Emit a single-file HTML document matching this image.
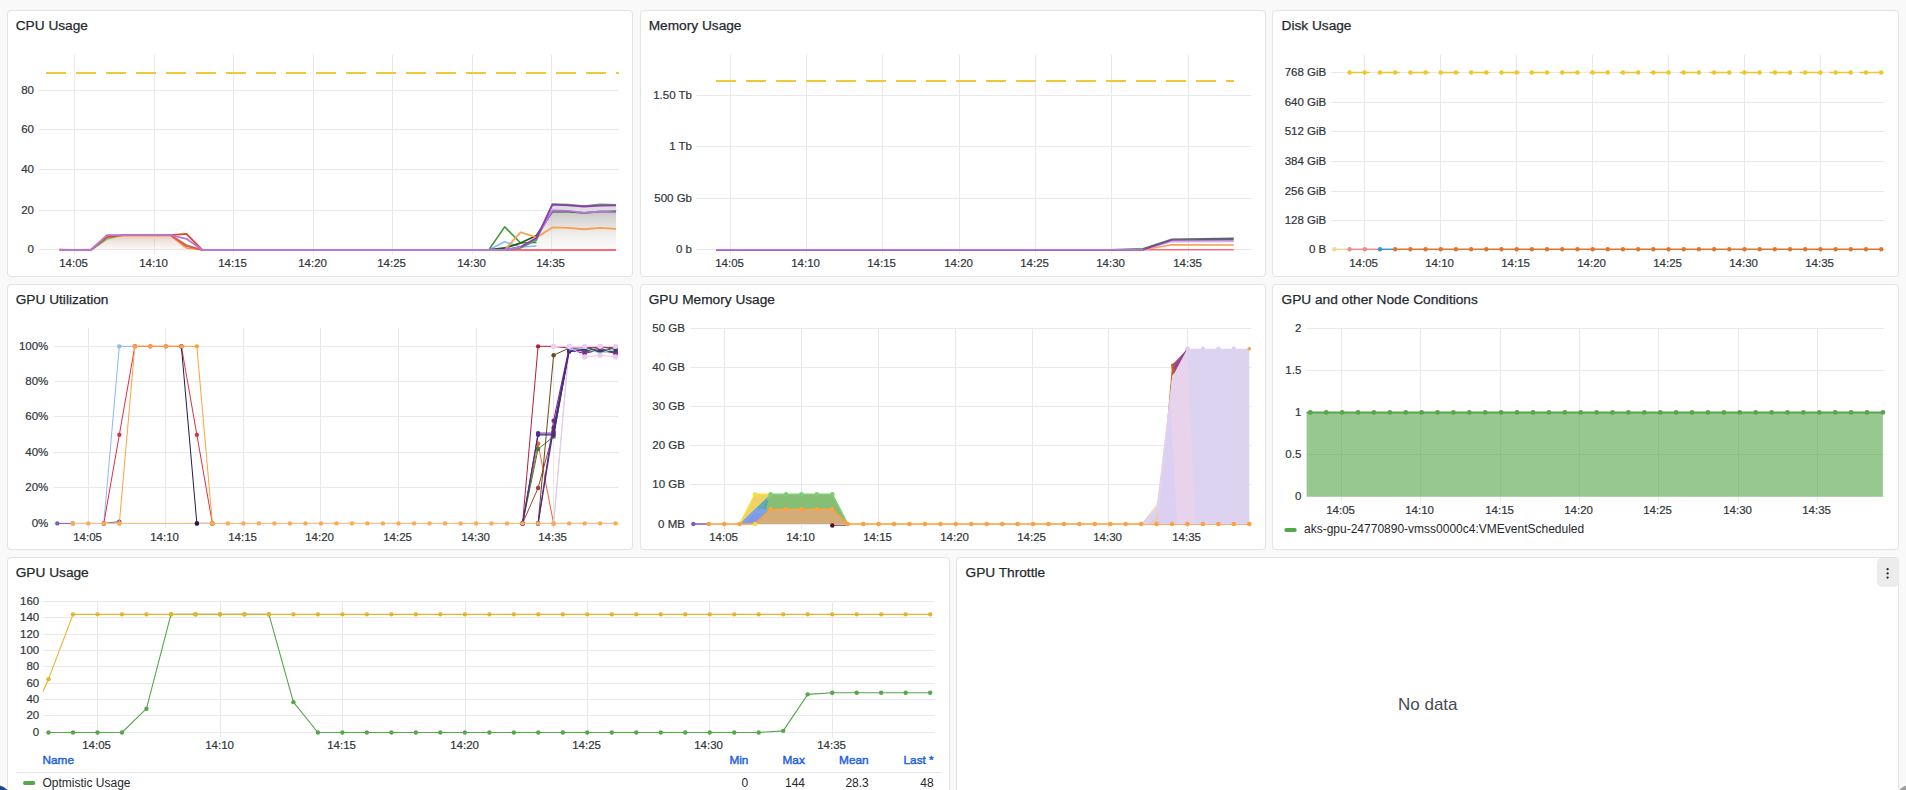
<!DOCTYPE html>
<html><head><meta charset="utf-8"><title>Dashboard</title>
<style>
html,body{margin:0;padding:0;}
body{width:1906px;height:790px;overflow:hidden;background:#f9f9f9;position:relative;font-family:"Liberation Sans", sans-serif;color:#24292e;}
.panel{position:absolute;box-sizing:border-box;background:#fff;border:1px solid #e3e3e3;border-radius:4px;}
.title{position:absolute;font-size:13.7px;line-height:16px;-webkit-text-stroke:0.25px #24292e;white-space:nowrap;color:#24292e;}
svg.ov{position:absolute;left:0;top:0;}
.ax{font-family:"Liberation Sans", sans-serif;fill:#30353a;stroke:#30353a;stroke-width:0.2px;}
.lg{font-family:"Liberation Sans", sans-serif;font-size:12px;fill:#24292e;}
.lh{font-family:"Liberation Sans", sans-serif;font-size:11.8px;fill:#1f62e0;stroke:#1f62e0;stroke-width:0.45px;}
.nodata{position:absolute;left:1398px;top:695px;font-size:17px;line-height:20px;color:#464c54;}
.menu{position:absolute;left:1876.5px;top:558px;width:22.5px;height:29px;background:#ececec;border-radius:5px;}
.menu i{position:absolute;left:10.5px;width:2.2px;height:2.2px;border-radius:50%;background:#24292e;}
.menu i:nth-child(1){top:10px} .menu i:nth-child(2){top:14.3px} .menu i:nth-child(3){top:18.6px}
</style></head><body>
<div class="panel" style="left:7px;top:10px;width:626px;height:267px"></div>
<div class="title" style="left:15.7px;top:18px">CPU Usage</div>
<div class="panel" style="left:640px;top:10px;width:626px;height:267px"></div>
<div class="title" style="left:648.7px;top:18px">Memory Usage</div>
<div class="panel" style="left:1272px;top:10px;width:627px;height:267px"></div>
<div class="title" style="left:1281.5px;top:18px">Disk Usage</div>
<div class="panel" style="left:7px;top:284px;width:626px;height:266px"></div>
<div class="title" style="left:15.7px;top:292px">GPU Utilization</div>
<div class="panel" style="left:640px;top:284px;width:626px;height:266px"></div>
<div class="title" style="left:648.7px;top:292px">GPU Memory Usage</div>
<div class="panel" style="left:1272px;top:284px;width:627px;height:266px"></div>
<div class="title" style="left:1281.5px;top:292px">GPU and other Node Conditions</div>
<div class="panel" style="left:7px;top:557px;width:943px;height:260px"></div>
<div class="title" style="left:15.7px;top:565px">GPU Usage</div>
<div class="panel" style="left:956px;top:557px;width:943px;height:260px"></div>
<div class="title" style="left:965.5px;top:565px">GPU Throttle</div>
<div class="nodata">No data</div>
<div class="menu"></div>
<svg class="ov" width="1906" height="790" viewBox="0 0 1906 790">
<defs>
<linearGradient id="gg" x1="0" y1="0" x2="0" y2="1"><stop offset="0" stop-color="#bcbcbc" stop-opacity="0.85"/><stop offset="0.5" stop-color="#d4d2cc" stop-opacity="0.5"/><stop offset="1" stop-color="#e8e4dc" stop-opacity="0.1"/></linearGradient>
<linearGradient id="gb" x1="0" y1="0" x2="0" y2="1"><stop offset="0" stop-color="#c89a8a" stop-opacity="0.5"/><stop offset="1" stop-color="#e0c0b0" stop-opacity="0.08"/></linearGradient>
</defs>
<path d="M39,249.5H618.5M39,210.5H618.5M39,169.5H618.5M39,129.5H618.5M39,90.5H618.5M74.5,54.5V254.5M154.5,54.5V254.5M233.5,54.5V254.5M313.5,54.5V254.5M392.5,54.5V254.5M472.5,54.5V254.5M551.5,54.5V254.5" stroke="#e8e9ea" stroke-width="1" fill="none"/>
<text x="34" y="252.5" text-anchor="end" class="ax" style="font-size:11.5px">0</text>
<text x="34" y="213.5" text-anchor="end" class="ax" style="font-size:11.5px">20</text>
<text x="34" y="172.5" text-anchor="end" class="ax" style="font-size:11.5px">40</text>
<text x="34" y="132.5" text-anchor="end" class="ax" style="font-size:11.5px">60</text>
<text x="34" y="93.5" text-anchor="end" class="ax" style="font-size:11.5px">80</text>
<text x="73.6" y="266.8" text-anchor="middle" class="ax" style="font-size:11.5px">14:05</text>
<text x="153.6" y="266.8" text-anchor="middle" class="ax" style="font-size:11.5px">14:10</text>
<text x="232.6" y="266.8" text-anchor="middle" class="ax" style="font-size:11.5px">14:15</text>
<text x="312.6" y="266.8" text-anchor="middle" class="ax" style="font-size:11.5px">14:20</text>
<text x="391.6" y="266.8" text-anchor="middle" class="ax" style="font-size:11.5px">14:25</text>
<text x="471.6" y="266.8" text-anchor="middle" class="ax" style="font-size:11.5px">14:30</text>
<text x="550.6" y="266.8" text-anchor="middle" class="ax" style="font-size:11.5px">14:35</text>
<path d="M46,73H619" stroke="#f0c93a" stroke-width="2" stroke-dasharray="20 10"/>
<path d="M504.68,250 L520.59,247.01 L536.5,238.03 L552.41,204.71 L568.32,205.31 L584.23,206.51 L600.14,205.71 L616.05,205.31 L616.05,212.29 L600.14,211.5 L584.23,212.89 L568.32,210.9 L552.41,210.5 L536.5,238.03 L520.59,247.01 L504.68,250 Z" fill="#dedee2"/>
<path d="M488.77,250 L504.68,250 L520.59,247.01 L536.5,238.03 L552.41,210.5 L568.32,210.9 L584.23,212.89 L600.14,211.5 L616.05,212.29 L616.05,250 L488.77,250" fill="url(#gg)" fill-opacity="1.0" stroke="none"/>
<path d="M91.02,250 L106.93,235.04 L170.57,235.04 L186.48,244.01 L202.39,250 L202.39,250 L91.02,250" fill="url(#gb)" fill-opacity="1.0" stroke="none"/>
<path d="M59.2,249.2 L75.11,250 L91.02,249.4 L106.93,235.64 L170.57,235.64 L186.48,248 L202.39,250" stroke="#ff9830" stroke-width="1.6" fill="none" stroke-linejoin="round" />
<path d="M91.02,250 L106.93,239.03 L122.84,235.04 L170.57,235.04 L186.48,245.01 L202.39,250" stroke="#73bf69" stroke-width="1.6" fill="none" stroke-linejoin="round" />
<path d="M170.57,235.04 L186.48,246.01 L202.39,250" stroke="#f2495c" stroke-width="1.6" fill="none" stroke-linejoin="round" />
<path d="M91.02,250 L106.93,237.03 L122.84,235.04 L170.57,235.04 L186.48,233.84 L202.39,250" stroke="#e0482b" stroke-width="1.8" fill="none" stroke-linejoin="round" />
<path d="M472.86,250 L488.77,250 L504.68,226.86 L520.59,243.02 L536.5,242.42" stroke="#3d9a32" stroke-width="1.6" fill="none" stroke-linejoin="round" />
<path d="M488.77,250 L504.68,241.82 L520.59,247.01 L536.5,246.01" stroke="#8ab8ff" stroke-width="1.6" fill="none" stroke-linejoin="round" />
<path d="M488.77,250 L504.68,248 L520.59,243.02 L536.5,235.44 L552.41,211.5 L568.32,211.7 L584.23,212.89 L600.14,211.7 L616.05,211.3" stroke="#1f5e1a" stroke-width="1.8" fill="none" stroke-linejoin="round" />
<path d="M488.77,250 L504.68,250 L520.59,232.24 L536.5,237.43 L552.41,227.46 L568.32,227.86 L584.23,229.25 L600.14,227.86 L616.05,228.85" stroke="#f8a050" stroke-width="1.8" fill="none" stroke-linejoin="round" />
<path d="M504.68,250 L616.05,250" stroke="#f76a7e" stroke-width="2" fill="none" stroke-linejoin="round" />
<path d="M504.68,250 L520.59,248 L536.5,240.03 L552.41,204.12 L568.32,204.51 L584.23,206.11 L600.14,204.31 L616.05,204.91" stroke="#56a64b" stroke-width="1.6" fill="none" stroke-linejoin="round" />
<path d="M504.68,250 L520.59,247.01 L536.5,238.03 L552.41,210.5 L568.32,210.9 L584.23,212.89 L600.14,211.5 L616.05,212.29" stroke="#b877d9" stroke-width="1.8" fill="none" stroke-linejoin="round" />
<path d="M504.68,250 L520.59,247.01 L536.5,238.03 L552.41,204.71 L568.32,205.31 L584.23,206.51 L600.14,205.71 L616.05,205.31" stroke="#8f3bb8" stroke-width="1.8" fill="none" stroke-linejoin="round" />
<path d="M59.2,250 L75.11,250 L91.02,250 L106.93,235.04 L170.57,235.04 L186.48,238.83 L202.39,250 L504.68,250 L520.59,247.01" stroke="#b877d9" stroke-width="1.8" fill="none" stroke-linejoin="round" />
<path d="M696.5,249.5H1251.4M696.5,198.5H1251.4M696.5,146.5H1251.4M696.5,95.5H1251.4M730.5,54.5V254.5M806.5,54.5V254.5M882.5,54.5V254.5M959.5,54.5V254.5M1035.5,54.5V254.5M1111.5,54.5V254.5M1188.5,54.5V254.5" stroke="#e8e9ea" stroke-width="1" fill="none"/>
<text x="692" y="252.5" text-anchor="end" class="ax" style="font-size:11.5px">0 b</text>
<text x="692" y="201.5" text-anchor="end" class="ax" style="font-size:11.5px">500 Gb</text>
<text x="692" y="149.5" text-anchor="end" class="ax" style="font-size:11.5px">1 Tb</text>
<text x="692" y="98.5" text-anchor="end" class="ax" style="font-size:11.5px">1.50 Tb</text>
<text x="729.6" y="266.8" text-anchor="middle" class="ax" style="font-size:11.5px">14:05</text>
<text x="805.6" y="266.8" text-anchor="middle" class="ax" style="font-size:11.5px">14:10</text>
<text x="881.6" y="266.8" text-anchor="middle" class="ax" style="font-size:11.5px">14:15</text>
<text x="958.6" y="266.8" text-anchor="middle" class="ax" style="font-size:11.5px">14:20</text>
<text x="1034.6" y="266.8" text-anchor="middle" class="ax" style="font-size:11.5px">14:25</text>
<text x="1110.6" y="266.8" text-anchor="middle" class="ax" style="font-size:11.5px">14:30</text>
<text x="1187.6" y="266.8" text-anchor="middle" class="ax" style="font-size:11.5px">14:35</text>
<path d="M716,81H1234" stroke="#f0c93a" stroke-width="2" stroke-dasharray="20 10"/>
<path d="M716,249.8 L1143,249.8 L1172,249.8 L1233.7,249.8" stroke="#f76a7e" stroke-width="1.6" fill="none" stroke-linejoin="round" />
<path d="M716,249.8 L1143,249.8 L1172,244.8 L1233.7,245" stroke="#f8a050" stroke-width="1.6" fill="none" stroke-linejoin="round" />
<path d="M1110,249.8 L1143,248.8 L1172,239.2 L1233.7,238.2" stroke="#37872d" stroke-width="1.6" fill="none" stroke-linejoin="round" />
<path d="M716,249.8 L1143,249.8 L1172,241.6 L1233.7,241.5" stroke="#cbb4e0" stroke-width="1.6" fill="none" stroke-linejoin="round" />
<path d="M716,249.8 L1143,249.8 L1172,240 L1233.7,239.7" stroke="#8f3bb8" stroke-width="1.7" fill="none" stroke-linejoin="round" />
<path d="M716,249.8 L1143,249.8" stroke="#b877d9" stroke-width="1.6" fill="none" stroke-linejoin="round" />
<path d="M1331.3,249.5H1884.2M1331.3,220.5H1884.2M1331.3,191.5H1884.2M1331.3,161.5H1884.2M1331.3,131.5H1884.2M1331.3,102.5H1884.2M1331.3,72.5H1884.2M1364.5,54.5V254.5M1440.5,54.5V254.5M1516.5,54.5V254.5M1592.5,54.5V254.5M1668.5,54.5V254.5M1744.5,54.5V254.5M1820.5,54.5V254.5" stroke="#e8e9ea" stroke-width="1" fill="none"/>
<text x="1326.2" y="252.5" text-anchor="end" class="ax" style="font-size:11.5px">0 B</text>
<text x="1326.2" y="223.5" text-anchor="end" class="ax" style="font-size:11.5px">128 GiB</text>
<text x="1326.2" y="194.5" text-anchor="end" class="ax" style="font-size:11.5px">256 GiB</text>
<text x="1326.2" y="164.5" text-anchor="end" class="ax" style="font-size:11.5px">384 GiB</text>
<text x="1326.2" y="134.5" text-anchor="end" class="ax" style="font-size:11.5px">512 GiB</text>
<text x="1326.2" y="105.5" text-anchor="end" class="ax" style="font-size:11.5px">640 GiB</text>
<text x="1326.2" y="75.5" text-anchor="end" class="ax" style="font-size:11.5px">768 GiB</text>
<text x="1363.6" y="266.8" text-anchor="middle" class="ax" style="font-size:11.5px">14:05</text>
<text x="1439.6" y="266.8" text-anchor="middle" class="ax" style="font-size:11.5px">14:10</text>
<text x="1515.6" y="266.8" text-anchor="middle" class="ax" style="font-size:11.5px">14:15</text>
<text x="1591.6" y="266.8" text-anchor="middle" class="ax" style="font-size:11.5px">14:20</text>
<text x="1667.6" y="266.8" text-anchor="middle" class="ax" style="font-size:11.5px">14:25</text>
<text x="1743.6" y="266.8" text-anchor="middle" class="ax" style="font-size:11.5px">14:30</text>
<text x="1819.6" y="266.8" text-anchor="middle" class="ax" style="font-size:11.5px">14:35</text>
<path d="M1349.61,72.48H1881.16" stroke="#efc52a" stroke-width="1.5" stroke-dasharray="20 10"/>
<circle cx="1349.61" cy="72.48" r="2.2" fill="#efc52a"/>
<circle cx="1364.8" cy="72.48" r="2.2" fill="#efc52a"/>
<circle cx="1379.99" cy="72.48" r="2.2" fill="#efc52a"/>
<circle cx="1395.17" cy="72.48" r="2.2" fill="#efc52a"/>
<circle cx="1410.36" cy="72.48" r="2.2" fill="#efc52a"/>
<circle cx="1425.55" cy="72.48" r="2.2" fill="#efc52a"/>
<circle cx="1440.73" cy="72.48" r="2.2" fill="#efc52a"/>
<circle cx="1455.92" cy="72.48" r="2.2" fill="#efc52a"/>
<circle cx="1471.11" cy="72.48" r="2.2" fill="#efc52a"/>
<circle cx="1486.3" cy="72.48" r="2.2" fill="#efc52a"/>
<circle cx="1501.48" cy="72.48" r="2.2" fill="#efc52a"/>
<circle cx="1516.67" cy="72.48" r="2.2" fill="#efc52a"/>
<circle cx="1531.86" cy="72.48" r="2.2" fill="#efc52a"/>
<circle cx="1547.04" cy="72.48" r="2.2" fill="#efc52a"/>
<circle cx="1562.23" cy="72.48" r="2.2" fill="#efc52a"/>
<circle cx="1577.42" cy="72.48" r="2.2" fill="#efc52a"/>
<circle cx="1592.61" cy="72.48" r="2.2" fill="#efc52a"/>
<circle cx="1607.79" cy="72.48" r="2.2" fill="#efc52a"/>
<circle cx="1622.98" cy="72.48" r="2.2" fill="#efc52a"/>
<circle cx="1638.17" cy="72.48" r="2.2" fill="#efc52a"/>
<circle cx="1653.35" cy="72.48" r="2.2" fill="#efc52a"/>
<circle cx="1668.54" cy="72.48" r="2.2" fill="#efc52a"/>
<circle cx="1683.73" cy="72.48" r="2.2" fill="#efc52a"/>
<circle cx="1698.91" cy="72.48" r="2.2" fill="#efc52a"/>
<circle cx="1714.1" cy="72.48" r="2.2" fill="#efc52a"/>
<circle cx="1729.29" cy="72.48" r="2.2" fill="#efc52a"/>
<circle cx="1744.47" cy="72.48" r="2.2" fill="#efc52a"/>
<circle cx="1759.66" cy="72.48" r="2.2" fill="#efc52a"/>
<circle cx="1774.85" cy="72.48" r="2.2" fill="#efc52a"/>
<circle cx="1790.04" cy="72.48" r="2.2" fill="#efc52a"/>
<circle cx="1805.22" cy="72.48" r="2.2" fill="#efc52a"/>
<circle cx="1820.41" cy="72.48" r="2.2" fill="#efc52a"/>
<circle cx="1835.6" cy="72.48" r="2.2" fill="#efc52a"/>
<circle cx="1850.78" cy="72.48" r="2.2" fill="#efc52a"/>
<circle cx="1865.97" cy="72.48" r="2.2" fill="#efc52a"/>
<circle cx="1881.16" cy="72.48" r="2.2" fill="#efc52a"/>
<path d="M1334.43,249.3 L1349.61,249.3" stroke="#f4d598" stroke-width="1.5" fill="none" stroke-linejoin="round" />
<circle cx="1334.43" cy="249.3" r="2.2" fill="#f4d598"/>
<path d="M1349.61,249.3 L1379.99,249.3" stroke="#f08b8b" stroke-width="1.5" fill="none" stroke-linejoin="round" />
<circle cx="1349.61" cy="249.3" r="2.2" fill="#f08b8b"/>
<circle cx="1364.8" cy="249.3" r="2.2" fill="#f08b8b"/>
<path d="M1379.99,249.3 L1395.17,249.3" stroke="#3c96c8" stroke-width="1.5" fill="none" stroke-linejoin="round" />
<circle cx="1379.99" cy="249.3" r="2.2" fill="#3c96c8"/>
<path d="M1395.17,249.3 L1881.16,249.3" stroke="#e0752d" stroke-width="1.5" fill="none" stroke-linejoin="round" />
<circle cx="1395.17" cy="249.3" r="2.2" fill="#e0752d"/>
<circle cx="1410.36" cy="249.3" r="2.2" fill="#e0752d"/>
<circle cx="1425.55" cy="249.3" r="2.2" fill="#e0752d"/>
<circle cx="1440.73" cy="249.3" r="2.2" fill="#e0752d"/>
<circle cx="1455.92" cy="249.3" r="2.2" fill="#e0752d"/>
<circle cx="1471.11" cy="249.3" r="2.2" fill="#e0752d"/>
<circle cx="1486.3" cy="249.3" r="2.2" fill="#e0752d"/>
<circle cx="1501.48" cy="249.3" r="2.2" fill="#e0752d"/>
<circle cx="1516.67" cy="249.3" r="2.2" fill="#e0752d"/>
<circle cx="1531.86" cy="249.3" r="2.2" fill="#e0752d"/>
<circle cx="1547.04" cy="249.3" r="2.2" fill="#e0752d"/>
<circle cx="1562.23" cy="249.3" r="2.2" fill="#e0752d"/>
<circle cx="1577.42" cy="249.3" r="2.2" fill="#e0752d"/>
<circle cx="1592.61" cy="249.3" r="2.2" fill="#e0752d"/>
<circle cx="1607.79" cy="249.3" r="2.2" fill="#e0752d"/>
<circle cx="1622.98" cy="249.3" r="2.2" fill="#e0752d"/>
<circle cx="1638.17" cy="249.3" r="2.2" fill="#e0752d"/>
<circle cx="1653.35" cy="249.3" r="2.2" fill="#e0752d"/>
<circle cx="1668.54" cy="249.3" r="2.2" fill="#e0752d"/>
<circle cx="1683.73" cy="249.3" r="2.2" fill="#e0752d"/>
<circle cx="1698.91" cy="249.3" r="2.2" fill="#e0752d"/>
<circle cx="1714.1" cy="249.3" r="2.2" fill="#e0752d"/>
<circle cx="1729.29" cy="249.3" r="2.2" fill="#e0752d"/>
<circle cx="1744.47" cy="249.3" r="2.2" fill="#e0752d"/>
<circle cx="1759.66" cy="249.3" r="2.2" fill="#e0752d"/>
<circle cx="1774.85" cy="249.3" r="2.2" fill="#e0752d"/>
<circle cx="1790.04" cy="249.3" r="2.2" fill="#e0752d"/>
<circle cx="1805.22" cy="249.3" r="2.2" fill="#e0752d"/>
<circle cx="1820.41" cy="249.3" r="2.2" fill="#e0752d"/>
<circle cx="1835.6" cy="249.3" r="2.2" fill="#e0752d"/>
<circle cx="1850.78" cy="249.3" r="2.2" fill="#e0752d"/>
<circle cx="1865.97" cy="249.3" r="2.2" fill="#e0752d"/>
<circle cx="1881.16" cy="249.3" r="2.2" fill="#e0752d"/>
<path d="M53.7,523.5H618.5M53.7,487.5H618.5M53.7,452.5H618.5M53.7,416.5H618.5M53.7,381.5H618.5M53.7,346.5H618.5M88.5,327.5V528.5M165.5,327.5V528.5M243.5,327.5V528.5M320.5,327.5V528.5M398.5,327.5V528.5M476.5,327.5V528.5M553.5,327.5V528.5" stroke="#e8e9ea" stroke-width="1" fill="none"/>
<text x="48.3" y="526.5" text-anchor="end" class="ax" style="font-size:11.5px">0%</text>
<text x="48.3" y="490.5" text-anchor="end" class="ax" style="font-size:11.5px">20%</text>
<text x="48.3" y="455.5" text-anchor="end" class="ax" style="font-size:11.5px">40%</text>
<text x="48.3" y="419.5" text-anchor="end" class="ax" style="font-size:11.5px">60%</text>
<text x="48.3" y="384.5" text-anchor="end" class="ax" style="font-size:11.5px">80%</text>
<text x="48.3" y="349.5" text-anchor="end" class="ax" style="font-size:11.5px">100%</text>
<text x="87.6" y="540.5" text-anchor="middle" class="ax" style="font-size:11.5px">14:05</text>
<text x="164.6" y="540.5" text-anchor="middle" class="ax" style="font-size:11.5px">14:10</text>
<text x="242.6" y="540.5" text-anchor="middle" class="ax" style="font-size:11.5px">14:15</text>
<text x="319.6" y="540.5" text-anchor="middle" class="ax" style="font-size:11.5px">14:20</text>
<text x="397.6" y="540.5" text-anchor="middle" class="ax" style="font-size:11.5px">14:25</text>
<text x="475.6" y="540.5" text-anchor="middle" class="ax" style="font-size:11.5px">14:30</text>
<text x="552.6" y="540.5" text-anchor="middle" class="ax" style="font-size:11.5px">14:35</text>
<path d="M57.28,523.4 L72.79,523.4" stroke="#7a5dc7" stroke-width="1" fill="none" stroke-linejoin="round" />
<circle cx="57.28" cy="523.4" r="2.2" fill="#7a5dc7"/>
<circle cx="72.79" cy="523.4" r="2.2" fill="#7a5dc7"/>
<path d="M103.81,523.4 L119.32,346.34 L134.83,346.34" stroke="#8ab8ff" stroke-width="1" fill="none" stroke-linejoin="round" />
<circle cx="103.81" cy="523.4" r="2.2" fill="#8ab8ff"/>
<circle cx="119.32" cy="346.34" r="2.2" fill="#8ab8ff"/>
<circle cx="134.83" cy="346.34" r="2.2" fill="#8ab8ff"/>
<path d="M103.81,523.4 L119.32,434.87 L134.83,346.34 L150.34,346.34 L165.85,346.34 L181.36,346.34 L196.87,434.87 L212.38,523.4" stroke="#e02f44" stroke-width="1" fill="none" stroke-linejoin="round" />
<circle cx="103.81" cy="523.4" r="2.2" fill="#e02f44"/>
<circle cx="119.32" cy="434.87" r="2.2" fill="#e02f44"/>
<circle cx="134.83" cy="346.34" r="2.2" fill="#e02f44"/>
<circle cx="150.34" cy="346.34" r="2.2" fill="#e02f44"/>
<circle cx="165.85" cy="346.34" r="2.2" fill="#e02f44"/>
<circle cx="181.36" cy="346.34" r="2.2" fill="#e02f44"/>
<circle cx="196.87" cy="434.87" r="2.2" fill="#e02f44"/>
<circle cx="212.38" cy="523.4" r="2.2" fill="#e02f44"/>
<path d="M181.36,346.34 L196.87,523.4 L212.38,523.4" stroke="#231a4a" stroke-width="1" fill="none" stroke-linejoin="round" />
<circle cx="181.36" cy="346.34" r="2.2" fill="#231a4a"/>
<circle cx="196.87" cy="523.4" r="2.2" fill="#231a4a"/>
<circle cx="212.38" cy="523.4" r="2.2" fill="#231a4a"/>
<path d="M103.81,523.4 L119.32,521.63" stroke="#6d4c8c" stroke-width="1" fill="none" stroke-linejoin="round" />
<circle cx="103.81" cy="523.4" r="2.2" fill="#6d4c8c"/>
<circle cx="119.32" cy="521.63" r="2.2" fill="#6d4c8c"/>
<path d="M119.32,523.4 L134.83,346.34 L150.34,346.34 L165.85,346.34 L181.36,346.34 L196.87,346.34 L212.38,523.4" stroke="#ffa040" stroke-width="1" fill="none" stroke-linejoin="round" />
<circle cx="119.32" cy="523.4" r="2.2" fill="#ffa040"/>
<circle cx="134.83" cy="346.34" r="2.2" fill="#ffa040"/>
<circle cx="150.34" cy="346.34" r="2.2" fill="#ffa040"/>
<circle cx="165.85" cy="346.34" r="2.2" fill="#ffa040"/>
<circle cx="181.36" cy="346.34" r="2.2" fill="#ffa040"/>
<circle cx="196.87" cy="346.34" r="2.2" fill="#ffa040"/>
<circle cx="212.38" cy="523.4" r="2.2" fill="#ffa040"/>
<path d="M522.58,523.4 L538.09,443.72 L553.6,523.4" stroke="#f0602a" stroke-width="1" fill="none" stroke-linejoin="round" />
<circle cx="522.58" cy="523.4" r="2.2" fill="#f0602a"/>
<circle cx="538.09" cy="443.72" r="2.2" fill="#f0602a"/>
<circle cx="553.6" cy="523.4" r="2.2" fill="#f0602a"/>
<path d="M522.58,523.4 L538.09,449.03 L553.6,436.64 L569.11,349.88" stroke="#37872d" stroke-width="1" fill="none" stroke-linejoin="round" />
<circle cx="522.58" cy="523.4" r="2.2" fill="#37872d"/>
<circle cx="538.09" cy="449.03" r="2.2" fill="#37872d"/>
<circle cx="553.6" cy="436.64" r="2.2" fill="#37872d"/>
<circle cx="569.11" cy="349.88" r="2.2" fill="#37872d"/>
<path d="M522.58,523.4 L538.09,487.99 L553.6,431.33 L569.11,348.11" stroke="#a04030" stroke-width="1" fill="none" stroke-linejoin="round" />
<circle cx="522.58" cy="523.4" r="2.2" fill="#a04030"/>
<circle cx="538.09" cy="487.99" r="2.2" fill="#a04030"/>
<circle cx="553.6" cy="431.33" r="2.2" fill="#a04030"/>
<circle cx="569.11" cy="348.11" r="2.2" fill="#a04030"/>
<path d="M553.6,523.4 L569.11,346.34" stroke="#f8c8a0" stroke-width="1" fill="none" stroke-linejoin="round" />
<path d="M553.6,523.4 L569.11,346.34" stroke="#d8d0f8" stroke-width="1" fill="none" stroke-linejoin="round" />
<path d="M522.58,523.4 L538.09,346.34 L553.6,346.34 L569.11,348.11 L584.62,348.11 L600.13,346.34 L615.64,348.11" stroke="#b0203a" stroke-width="1" fill="none" stroke-linejoin="round" />
<circle cx="522.58" cy="523.4" r="2.2" fill="#b0203a"/>
<circle cx="538.09" cy="346.34" r="2.2" fill="#b0203a"/>
<circle cx="553.6" cy="346.34" r="2.2" fill="#b0203a"/>
<circle cx="569.11" cy="348.11" r="2.2" fill="#b0203a"/>
<circle cx="584.62" cy="348.11" r="2.2" fill="#b0203a"/>
<circle cx="600.13" cy="346.34" r="2.2" fill="#b0203a"/>
<circle cx="615.64" cy="348.11" r="2.2" fill="#b0203a"/>
<path d="M538.09,523.4 L553.6,355.19 L569.11,348.11 L584.62,349.88 L600.13,346.34 L615.64,349.88" stroke="#6a4a1a" stroke-width="1" fill="none" stroke-linejoin="round" />
<circle cx="538.09" cy="523.4" r="2.2" fill="#6a4a1a"/>
<circle cx="553.6" cy="355.19" r="2.2" fill="#6a4a1a"/>
<circle cx="569.11" cy="348.11" r="2.2" fill="#6a4a1a"/>
<circle cx="584.62" cy="349.88" r="2.2" fill="#6a4a1a"/>
<circle cx="600.13" cy="346.34" r="2.2" fill="#6a4a1a"/>
<circle cx="615.64" cy="349.88" r="2.2" fill="#6a4a1a"/>
<path d="M522.58,523.4 L538.09,434.87 L553.6,434.87 L569.11,351.65 L584.62,349.88 L600.13,351.65 L615.64,351.65" stroke="#3a2a7a" stroke-width="1.1" fill="none" stroke-linejoin="round" />
<circle cx="522.58" cy="523.4" r="2.2" fill="#3a2a7a"/>
<circle cx="538.09" cy="434.87" r="2.2" fill="#3a2a7a"/>
<circle cx="553.6" cy="434.87" r="2.2" fill="#3a2a7a"/>
<circle cx="569.11" cy="351.65" r="2.2" fill="#3a2a7a"/>
<circle cx="584.62" cy="349.88" r="2.2" fill="#3a2a7a"/>
<circle cx="600.13" cy="351.65" r="2.2" fill="#3a2a7a"/>
<circle cx="615.64" cy="351.65" r="2.2" fill="#3a2a7a"/>
<path d="M522.58,523.4 L538.09,433.1 L553.6,433.1 L569.11,349.88 L584.62,353.42 L600.13,349.88 L615.64,353.42" stroke="#5a2a8a" stroke-width="1.0" fill="none" stroke-linejoin="round" />
<circle cx="522.58" cy="523.4" r="2.2" fill="#5a2a8a"/>
<circle cx="538.09" cy="433.1" r="2.2" fill="#5a2a8a"/>
<circle cx="553.6" cy="433.1" r="2.2" fill="#5a2a8a"/>
<circle cx="569.11" cy="349.88" r="2.2" fill="#5a2a8a"/>
<circle cx="584.62" cy="353.42" r="2.2" fill="#5a2a8a"/>
<circle cx="600.13" cy="349.88" r="2.2" fill="#5a2a8a"/>
<circle cx="615.64" cy="353.42" r="2.2" fill="#5a2a8a"/>
<path d="M538.09,523.4 L553.6,420.71 L569.11,348.11 L584.62,351.65 L600.13,348.11 L615.64,353.42" stroke="#7a2f8f" stroke-width="1.1" fill="none" stroke-linejoin="round" />
<circle cx="538.09" cy="523.4" r="2.2" fill="#7a2f8f"/>
<circle cx="553.6" cy="420.71" r="2.2" fill="#7a2f8f"/>
<circle cx="569.11" cy="348.11" r="2.2" fill="#7a2f8f"/>
<circle cx="584.62" cy="351.65" r="2.2" fill="#7a2f8f"/>
<circle cx="600.13" cy="348.11" r="2.2" fill="#7a2f8f"/>
<circle cx="615.64" cy="353.42" r="2.2" fill="#7a2f8f"/>
<path d="M538.09,523.4 L553.6,427.79 L569.11,349.88 L584.62,348.11 L600.13,351.65 L615.64,348.11" stroke="#4b2e83" stroke-width="1.2" fill="none" stroke-linejoin="round" />
<circle cx="538.09" cy="523.4" r="2.2" fill="#4b2e83"/>
<circle cx="553.6" cy="427.79" r="2.2" fill="#4b2e83"/>
<circle cx="569.11" cy="349.88" r="2.2" fill="#4b2e83"/>
<circle cx="584.62" cy="348.11" r="2.2" fill="#4b2e83"/>
<circle cx="600.13" cy="351.65" r="2.2" fill="#4b2e83"/>
<circle cx="615.64" cy="348.11" r="2.2" fill="#4b2e83"/>
<path d="M584.62,351.65 L600.13,349.88 L615.64,351.65" stroke="#2f6a30" stroke-width="1" fill="none" stroke-linejoin="round" />
<path d="M569.11,346.34 L584.62,356.96 L600.13,355.19 L615.64,356.96" stroke="#f4c6f4" stroke-width="1" fill="none" stroke-linejoin="round" />
<circle cx="569.11" cy="346.34" r="2.6" fill="#f4c6f4"/>
<circle cx="584.62" cy="356.96" r="2.6" fill="#f4c6f4"/>
<circle cx="600.13" cy="355.19" r="2.6" fill="#f4c6f4"/>
<circle cx="615.64" cy="356.96" r="2.6" fill="#f4c6f4"/>
<path d="M553.6,346.34 L569.11,346.34 L584.62,346.34 L600.13,346.34 L615.64,346.34" stroke="#ecd0f4" stroke-width="1" fill="none" stroke-linejoin="round" />
<circle cx="553.6" cy="346.34" r="2.6" fill="#ecd0f4"/>
<circle cx="569.11" cy="346.34" r="2.6" fill="#ecd0f4"/>
<circle cx="584.62" cy="346.34" r="2.6" fill="#ecd0f4"/>
<circle cx="600.13" cy="346.34" r="2.6" fill="#ecd0f4"/>
<circle cx="615.64" cy="346.34" r="2.6" fill="#ecd0f4"/>
<path d="M569.11,349.88 L584.62,348.11 L600.13,353.42 L615.64,348.11" stroke="#a0e0f0" stroke-width="1" fill="none" stroke-linejoin="round" />
<path d="M72.79,523.4 L615.64,523.4" stroke="#e9c595" stroke-width="1.3" fill="none" stroke-linejoin="round" />
<circle cx="72.79" cy="523.4" r="2.2" fill="#ffa94d"/>
<circle cx="88.3" cy="523.4" r="2.2" fill="#ffa94d"/>
<circle cx="103.81" cy="523.4" r="2.2" fill="#ffa94d"/>
<circle cx="119.32" cy="523.4" r="2.2" fill="#ffa94d"/>
<circle cx="212.38" cy="523.4" r="2.2" fill="#ffa94d"/>
<circle cx="227.89" cy="523.4" r="2.2" fill="#ffa94d"/>
<circle cx="243.4" cy="523.4" r="2.2" fill="#ffa94d"/>
<circle cx="258.91" cy="523.4" r="2.2" fill="#ffa94d"/>
<circle cx="274.42" cy="523.4" r="2.2" fill="#ffa94d"/>
<circle cx="289.93" cy="523.4" r="2.2" fill="#ffa94d"/>
<circle cx="305.44" cy="523.4" r="2.2" fill="#ffa94d"/>
<circle cx="320.95" cy="523.4" r="2.2" fill="#ffa94d"/>
<circle cx="336.46" cy="523.4" r="2.2" fill="#ffa94d"/>
<circle cx="351.97" cy="523.4" r="2.2" fill="#ffa94d"/>
<circle cx="367.48" cy="523.4" r="2.2" fill="#ffa94d"/>
<circle cx="382.99" cy="523.4" r="2.2" fill="#ffa94d"/>
<circle cx="398.5" cy="523.4" r="2.2" fill="#ffa94d"/>
<circle cx="414.01" cy="523.4" r="2.2" fill="#ffa94d"/>
<circle cx="429.52" cy="523.4" r="2.2" fill="#ffa94d"/>
<circle cx="445.03" cy="523.4" r="2.2" fill="#ffa94d"/>
<circle cx="460.54" cy="523.4" r="2.2" fill="#ffa94d"/>
<circle cx="476.05" cy="523.4" r="2.2" fill="#ffa94d"/>
<circle cx="491.56" cy="523.4" r="2.2" fill="#ffa94d"/>
<circle cx="507.07" cy="523.4" r="2.2" fill="#ffa94d"/>
<circle cx="522.58" cy="523.4" r="2.2" fill="#ffa94d"/>
<circle cx="538.09" cy="523.4" r="2.2" fill="#ffa94d"/>
<circle cx="553.6" cy="523.4" r="2.2" fill="#ffa94d"/>
<circle cx="569.11" cy="523.4" r="2.2" fill="#ffa94d"/>
<circle cx="584.62" cy="523.4" r="2.2" fill="#ffa94d"/>
<circle cx="600.13" cy="523.4" r="2.2" fill="#ffa94d"/>
<circle cx="615.64" cy="523.4" r="2.2" fill="#ffa94d"/>
<circle cx="196.87" cy="523.4" r="2.2" fill="#231a4a"/>
<path d="M690.3,524.5H1251.4M690.3,484.5H1251.4M690.3,445.5H1251.4M690.3,406.5H1251.4M690.3,367.5H1251.4M690.3,328.5H1251.4M724.5,327.5V529M801.5,327.5V529M878.5,327.5V529M955.5,327.5V529M1032.5,327.5V529M1108.5,327.5V529M1187.5,327.5V529" stroke="#e8e9ea" stroke-width="1" fill="none"/>
<text x="684.9" y="527.5" text-anchor="end" class="ax" style="font-size:11.5px">0 MB</text>
<text x="684.9" y="487.5" text-anchor="end" class="ax" style="font-size:11.5px">10 GB</text>
<text x="684.9" y="448.5" text-anchor="end" class="ax" style="font-size:11.5px">20 GB</text>
<text x="684.9" y="409.5" text-anchor="end" class="ax" style="font-size:11.5px">30 GB</text>
<text x="684.9" y="370.5" text-anchor="end" class="ax" style="font-size:11.5px">40 GB</text>
<text x="684.9" y="331.5" text-anchor="end" class="ax" style="font-size:11.5px">50 GB</text>
<text x="723.6" y="540.5" text-anchor="middle" class="ax" style="font-size:11.5px">14:05</text>
<text x="800.6" y="540.5" text-anchor="middle" class="ax" style="font-size:11.5px">14:10</text>
<text x="877.6" y="540.5" text-anchor="middle" class="ax" style="font-size:11.5px">14:15</text>
<text x="954.6" y="540.5" text-anchor="middle" class="ax" style="font-size:11.5px">14:20</text>
<text x="1031.6" y="540.5" text-anchor="middle" class="ax" style="font-size:11.5px">14:25</text>
<text x="1107.6" y="540.5" text-anchor="middle" class="ax" style="font-size:11.5px">14:30</text>
<text x="1186.6" y="540.5" text-anchor="middle" class="ax" style="font-size:11.5px">14:35</text>
<path d="M739.64,524 L755.09,494.2 L770.53,494.2 L755.09,524 Z" fill="#efd365" fill-opacity="1"/>
<path d="M755.09,524 L770.53,494.2 L832.3,494.2 L847.74,524 Z" fill="#84bf73" fill-opacity="1"/>
<path d="M739.64,524 L770.53,494.2 L765.53,509.3 Z" fill="#4f9fc7" fill-opacity="0.85"/>
<path d="M739.64,524 L755.09,509.3 L768.03,509.3 L755.09,524 Z" fill="#7ba3f0" fill-opacity="1"/>
<path d="M745.64,522 L755.09,513.3 L761.09,513.3 L756.09,522 Z" fill="#8a8ee0" fill-opacity="0.6"/>
<path d="M755.09,524 L770.53,509.3 L832.3,509.3 L847.74,524 Z" fill="#d4ac78" fill-opacity="1"/>
<path d="M739.64,524 L755.09,494.2 L770.53,494.2" stroke="#f7e03a" stroke-width="1.5" fill="none" stroke-linejoin="round" />
<path d="M767.53,500.2 L770.53,494.2 L832.3,494.2 L847.74,524" stroke="#7fcf78" stroke-width="1.5" fill="none" stroke-linejoin="round" />
<circle cx="770.53" cy="494.2" r="2.3" fill="#80cc78"/>
<circle cx="785.97" cy="494.2" r="2.3" fill="#80cc78"/>
<circle cx="801.42" cy="494.2" r="2.3" fill="#80cc78"/>
<circle cx="816.86" cy="494.2" r="2.3" fill="#80cc78"/>
<circle cx="832.3" cy="494.2" r="2.3" fill="#80cc78"/>
<path d="M832.3,525.3 L847.74,525.3" stroke="#8a5a50" stroke-width="1.2" fill="none" stroke-linejoin="round" />
<circle cx="832.3" cy="525.5" r="2.2" fill="#4a1020"/>
<path d="M708.76,524 L755.09,524 L770.53,509.3 L832.3,509.3 L847.74,524 L1249.26,524" stroke="#ff9f40" stroke-width="1.5" fill="none" stroke-linejoin="round" />
<circle cx="770.53" cy="509.3" r="2.3" fill="#ffa040"/>
<circle cx="785.97" cy="509.3" r="2.3" fill="#ffa040"/>
<circle cx="801.42" cy="509.3" r="2.3" fill="#ffa040"/>
<circle cx="816.86" cy="509.3" r="2.3" fill="#ffa040"/>
<circle cx="832.3" cy="509.3" r="2.3" fill="#ffa040"/>
<circle cx="755.09" cy="494.2" r="2.3" fill="#f7e03a"/>
<path d="M693.31,524 L708.76,524" stroke="#7a5dc7" stroke-width="1.5" fill="none" stroke-linejoin="round" />
<circle cx="693.31" cy="524" r="2.2" fill="#7a5dc7"/>
<path d="M1160.6,506 L1172.05,372 L1187.49,348.8" stroke="#c0642a" stroke-width="1.2" fill="none" stroke-linejoin="round" />
<path d="M1141.16,524 L1156.6,504 L1162.6,470 L1159.6,505 L1164.6,524 Z" fill="#f2d890" fill-opacity="0.7"/>
<path d="M1172.05,365 L1186.49,349.8 L1187.49,350.8 L1174.05,375 Z" fill="#8f3a8f" fill-opacity="0.9"/>
<path d="M1171.05,364 L1174.05,363 L1175.05,372 L1172.05,376 Z" fill="#c05a20" fill-opacity="0.9"/>
<path d="M1141.16,524 L1156.6,507 L1172.05,378 L1187.49,348.8 L1249.26,348.8 L1249.26,524 Z" fill="#dcd3f0" fill-opacity="1"/>
<path d="M1156.6,524 L1158.6,500 L1172.05,378 L1187.49,348.8 L1195.49,524 Z" fill="#ead3ea" fill-opacity="0.8"/>
<path d="M1156.6,524 L1160.6,495 L1170.05,400 L1177.05,524 Z" fill="#d9cff3" fill-opacity="0.9"/>
<path d="M1147.16,524 L1153.6,520 L1157.6,510 L1159.6,524 Z" fill="#e6c9b0" fill-opacity="0.6"/>
<circle cx="1187.49" cy="348.8" r="2.2" fill="#ddd0f5"/>
<circle cx="1202.93" cy="348.8" r="2.2" fill="#ddd0f5"/>
<circle cx="1218.38" cy="348.8" r="2.2" fill="#ddd0f5"/>
<circle cx="1233.82" cy="348.8" r="2.2" fill="#ddd0f5"/>
<circle cx="1187.49" cy="348.8" r="2.2" fill="#f0c4f0"/>
<circle cx="708.76" cy="524" r="2.3" fill="#ffa040"/>
<circle cx="724.2" cy="524" r="2.3" fill="#ffa040"/>
<circle cx="739.64" cy="524" r="2.3" fill="#ffa040"/>
<circle cx="847.74" cy="524" r="2.3" fill="#ffa040"/>
<circle cx="863.19" cy="524" r="2.3" fill="#ffa040"/>
<circle cx="878.63" cy="524" r="2.3" fill="#ffa040"/>
<circle cx="894.07" cy="524" r="2.3" fill="#ffa040"/>
<circle cx="909.52" cy="524" r="2.3" fill="#ffa040"/>
<circle cx="924.96" cy="524" r="2.3" fill="#ffa040"/>
<circle cx="940.4" cy="524" r="2.3" fill="#ffa040"/>
<circle cx="955.85" cy="524" r="2.3" fill="#ffa040"/>
<circle cx="971.29" cy="524" r="2.3" fill="#ffa040"/>
<circle cx="986.73" cy="524" r="2.3" fill="#ffa040"/>
<circle cx="1002.17" cy="524" r="2.3" fill="#ffa040"/>
<circle cx="1017.62" cy="524" r="2.3" fill="#ffa040"/>
<circle cx="1033.06" cy="524" r="2.3" fill="#ffa040"/>
<circle cx="1048.5" cy="524" r="2.3" fill="#ffa040"/>
<circle cx="1063.95" cy="524" r="2.3" fill="#ffa040"/>
<circle cx="1079.39" cy="524" r="2.3" fill="#ffa040"/>
<circle cx="1094.83" cy="524" r="2.3" fill="#ffa040"/>
<circle cx="1110.28" cy="524" r="2.3" fill="#ffa040"/>
<circle cx="1125.72" cy="524" r="2.3" fill="#ffa040"/>
<circle cx="1141.16" cy="524" r="2.3" fill="#ffa040"/>
<circle cx="1156.6" cy="524" r="2.3" fill="#ffa040"/>
<circle cx="1172.05" cy="524" r="2.3" fill="#ffa040"/>
<circle cx="1187.49" cy="524" r="2.3" fill="#ffa040"/>
<circle cx="1202.93" cy="524" r="2.3" fill="#ffa040"/>
<circle cx="1218.38" cy="524" r="2.3" fill="#ffa040"/>
<circle cx="1233.82" cy="524" r="2.3" fill="#ffa040"/>
<circle cx="1249.26" cy="524" r="2.3" fill="#ffa040"/>
<circle cx="755.09" cy="524" r="2.2" fill="#fade2a"/>
<circle cx="1249.26" cy="348.8" r="1.8" fill="#ffa040"/>
<path d="M1306.6,496.5H1884.2M1306.6,454.5H1884.2M1306.6,412.5H1884.2M1306.6,370.5H1884.2M1306.6,328.5H1884.2M1341.5,327.5V501.5M1420.5,327.5V501.5M1500.5,327.5V501.5M1579.5,327.5V501.5M1658.5,327.5V501.5M1738.5,327.5V501.5M1817.5,327.5V501.5" stroke="#e8e9ea" stroke-width="1" fill="none"/>
<text x="1301.3" y="499.5" text-anchor="end" class="ax" style="font-size:11.5px">0</text>
<text x="1301.3" y="457.5" text-anchor="end" class="ax" style="font-size:11.5px">0.5</text>
<text x="1301.3" y="415.5" text-anchor="end" class="ax" style="font-size:11.5px">1</text>
<text x="1301.3" y="373.5" text-anchor="end" class="ax" style="font-size:11.5px">1.5</text>
<text x="1301.3" y="331.5" text-anchor="end" class="ax" style="font-size:11.5px">2</text>
<text x="1340.6" y="514" text-anchor="middle" class="ax" style="font-size:11.5px">14:05</text>
<text x="1419.6" y="514" text-anchor="middle" class="ax" style="font-size:11.5px">14:10</text>
<text x="1499.6" y="514" text-anchor="middle" class="ax" style="font-size:11.5px">14:15</text>
<text x="1578.6" y="514" text-anchor="middle" class="ax" style="font-size:11.5px">14:20</text>
<text x="1657.6" y="514" text-anchor="middle" class="ax" style="font-size:11.5px">14:25</text>
<text x="1737.6" y="514" text-anchor="middle" class="ax" style="font-size:11.5px">14:30</text>
<text x="1816.6" y="514" text-anchor="middle" class="ax" style="font-size:11.5px">14:35</text>
<rect x="1306.6" y="412.4" width="576.3" height="84.2" fill="#56a64b" fill-opacity="0.62"/>
<path d="M1306.6,412.4 L1882.9,412.4" stroke="#56a64b" stroke-width="2" fill="none" stroke-linejoin="round" />
<circle cx="1310.3" cy="412.4" r="2.4" fill="#56a64b"/>
<circle cx="1326.21" cy="412.4" r="2.4" fill="#56a64b"/>
<circle cx="1342.11" cy="412.4" r="2.4" fill="#56a64b"/>
<circle cx="1358.02" cy="412.4" r="2.4" fill="#56a64b"/>
<circle cx="1373.92" cy="412.4" r="2.4" fill="#56a64b"/>
<circle cx="1389.83" cy="412.4" r="2.4" fill="#56a64b"/>
<circle cx="1405.74" cy="412.4" r="2.4" fill="#56a64b"/>
<circle cx="1421.64" cy="412.4" r="2.4" fill="#56a64b"/>
<circle cx="1437.55" cy="412.4" r="2.4" fill="#56a64b"/>
<circle cx="1453.45" cy="412.4" r="2.4" fill="#56a64b"/>
<circle cx="1469.36" cy="412.4" r="2.4" fill="#56a64b"/>
<circle cx="1485.27" cy="412.4" r="2.4" fill="#56a64b"/>
<circle cx="1501.17" cy="412.4" r="2.4" fill="#56a64b"/>
<circle cx="1517.08" cy="412.4" r="2.4" fill="#56a64b"/>
<circle cx="1532.98" cy="412.4" r="2.4" fill="#56a64b"/>
<circle cx="1548.89" cy="412.4" r="2.4" fill="#56a64b"/>
<circle cx="1564.8" cy="412.4" r="2.4" fill="#56a64b"/>
<circle cx="1580.7" cy="412.4" r="2.4" fill="#56a64b"/>
<circle cx="1596.61" cy="412.4" r="2.4" fill="#56a64b"/>
<circle cx="1612.51" cy="412.4" r="2.4" fill="#56a64b"/>
<circle cx="1628.42" cy="412.4" r="2.4" fill="#56a64b"/>
<circle cx="1644.33" cy="412.4" r="2.4" fill="#56a64b"/>
<circle cx="1660.23" cy="412.4" r="2.4" fill="#56a64b"/>
<circle cx="1676.14" cy="412.4" r="2.4" fill="#56a64b"/>
<circle cx="1692.04" cy="412.4" r="2.4" fill="#56a64b"/>
<circle cx="1707.95" cy="412.4" r="2.4" fill="#56a64b"/>
<circle cx="1723.86" cy="412.4" r="2.4" fill="#56a64b"/>
<circle cx="1739.76" cy="412.4" r="2.4" fill="#56a64b"/>
<circle cx="1755.67" cy="412.4" r="2.4" fill="#56a64b"/>
<circle cx="1771.57" cy="412.4" r="2.4" fill="#56a64b"/>
<circle cx="1787.48" cy="412.4" r="2.4" fill="#56a64b"/>
<circle cx="1803.39" cy="412.4" r="2.4" fill="#56a64b"/>
<circle cx="1819.29" cy="412.4" r="2.4" fill="#56a64b"/>
<circle cx="1835.2" cy="412.4" r="2.4" fill="#56a64b"/>
<circle cx="1851.1" cy="412.4" r="2.4" fill="#56a64b"/>
<circle cx="1867.01" cy="412.4" r="2.4" fill="#56a64b"/>
<circle cx="1882.92" cy="412.4" r="2.4" fill="#56a64b"/>
<rect x="1284.4" y="528.1" width="12.3" height="3.8" rx="1.9" fill="#56a64b"/>
<text x="1304" y="533.3" class="lg">aks-gpu-24770890-vmss0000c4:VMEventScheduled</text>
<path d="M43.1,732.5H934.5M43.1,715.5H934.5M43.1,699.5H934.5M43.1,683.5H934.5M43.1,666.5H934.5M43.1,650.5H934.5M43.1,634.5H934.5M43.1,617.5H934.5M43.1,601.5H934.5M97.5,601V737.5M220.5,601V737.5M342.5,601V737.5M465.5,601V737.5M587.5,601V737.5M709.5,601V737.5M832.5,601V737.5" stroke="#e8e9ea" stroke-width="1" fill="none"/>
<text x="39.2" y="735.5" text-anchor="end" class="ax" style="font-size:11.5px">0</text>
<text x="39.2" y="718.5" text-anchor="end" class="ax" style="font-size:11.5px">20</text>
<text x="39.2" y="702.5" text-anchor="end" class="ax" style="font-size:11.5px">40</text>
<text x="39.2" y="686.5" text-anchor="end" class="ax" style="font-size:11.5px">60</text>
<text x="39.2" y="669.5" text-anchor="end" class="ax" style="font-size:11.5px">80</text>
<text x="39.2" y="653.5" text-anchor="end" class="ax" style="font-size:11.5px">100</text>
<text x="39.2" y="637.5" text-anchor="end" class="ax" style="font-size:11.5px">120</text>
<text x="39.2" y="620.5" text-anchor="end" class="ax" style="font-size:11.5px">140</text>
<text x="39.2" y="604.5" text-anchor="end" class="ax" style="font-size:11.5px">160</text>
<text x="96.6" y="748.8" text-anchor="middle" class="ax" style="font-size:11.5px">14:05</text>
<text x="219.6" y="748.8" text-anchor="middle" class="ax" style="font-size:11.5px">14:10</text>
<text x="341.6" y="748.8" text-anchor="middle" class="ax" style="font-size:11.5px">14:15</text>
<text x="464.6" y="748.8" text-anchor="middle" class="ax" style="font-size:11.5px">14:20</text>
<text x="586.6" y="748.8" text-anchor="middle" class="ax" style="font-size:11.5px">14:25</text>
<text x="708.6" y="748.8" text-anchor="middle" class="ax" style="font-size:11.5px">14:30</text>
<text x="831.6" y="748.8" text-anchor="middle" class="ax" style="font-size:11.5px">14:35</text>
<defs><clipPath id="c7"><rect x="43.1" y="590" width="895" height="150"/></clipPath></defs>
<path d="M48.52,732.5 L73.01,732.5 L97.5,732.5 L121.99,732.5 L146.48,708.71 L170.97,614.35 L195.46,614.35 L219.95,614.35 L244.44,614.35 L268.93,614.35 L293.42,702.14 L317.91,732.5 L342.4,732.5 L366.89,732.5 L391.38,732.5 L415.87,732.5 L440.36,732.5 L464.85,732.5 L489.34,732.5 L513.83,732.5 L538.32,732.5 L562.81,732.5 L587.3,732.5 L611.79,732.5 L636.28,732.5 L660.77,732.5 L685.26,732.5 L709.75,732.5 L734.24,732.5 L758.73,732.5 L783.22,730.86 L807.71,694.35 L832.2,692.71 L856.69,692.71 L881.18,692.71 L905.67,692.71 L930.16,692.71" stroke="#56a64b" stroke-width="1.1" fill="none" stroke-linejoin="round" />
<circle cx="48.52" cy="732.5" r="2.2" fill="#56a64b"/>
<circle cx="73.01" cy="732.5" r="2.2" fill="#56a64b"/>
<circle cx="97.5" cy="732.5" r="2.2" fill="#56a64b"/>
<circle cx="121.99" cy="732.5" r="2.2" fill="#56a64b"/>
<circle cx="146.48" cy="708.71" r="2.2" fill="#56a64b"/>
<circle cx="170.97" cy="614.35" r="2.2" fill="#56a64b"/>
<circle cx="195.46" cy="614.35" r="2.2" fill="#56a64b"/>
<circle cx="219.95" cy="614.35" r="2.2" fill="#56a64b"/>
<circle cx="244.44" cy="614.35" r="2.2" fill="#56a64b"/>
<circle cx="268.93" cy="614.35" r="2.2" fill="#56a64b"/>
<circle cx="293.42" cy="702.14" r="2.2" fill="#56a64b"/>
<circle cx="317.91" cy="732.5" r="2.2" fill="#56a64b"/>
<circle cx="342.4" cy="732.5" r="2.2" fill="#56a64b"/>
<circle cx="366.89" cy="732.5" r="2.2" fill="#56a64b"/>
<circle cx="391.38" cy="732.5" r="2.2" fill="#56a64b"/>
<circle cx="415.87" cy="732.5" r="2.2" fill="#56a64b"/>
<circle cx="440.36" cy="732.5" r="2.2" fill="#56a64b"/>
<circle cx="464.85" cy="732.5" r="2.2" fill="#56a64b"/>
<circle cx="489.34" cy="732.5" r="2.2" fill="#56a64b"/>
<circle cx="513.83" cy="732.5" r="2.2" fill="#56a64b"/>
<circle cx="538.32" cy="732.5" r="2.2" fill="#56a64b"/>
<circle cx="562.81" cy="732.5" r="2.2" fill="#56a64b"/>
<circle cx="587.3" cy="732.5" r="2.2" fill="#56a64b"/>
<circle cx="611.79" cy="732.5" r="2.2" fill="#56a64b"/>
<circle cx="636.28" cy="732.5" r="2.2" fill="#56a64b"/>
<circle cx="660.77" cy="732.5" r="2.2" fill="#56a64b"/>
<circle cx="685.26" cy="732.5" r="2.2" fill="#56a64b"/>
<circle cx="709.75" cy="732.5" r="2.2" fill="#56a64b"/>
<circle cx="734.24" cy="732.5" r="2.2" fill="#56a64b"/>
<circle cx="758.73" cy="732.5" r="2.2" fill="#56a64b"/>
<circle cx="783.22" cy="730.86" r="2.2" fill="#56a64b"/>
<circle cx="807.71" cy="694.35" r="2.2" fill="#56a64b"/>
<circle cx="832.2" cy="692.71" r="2.2" fill="#56a64b"/>
<circle cx="856.69" cy="692.71" r="2.2" fill="#56a64b"/>
<circle cx="881.18" cy="692.71" r="2.2" fill="#56a64b"/>
<circle cx="905.67" cy="692.71" r="2.2" fill="#56a64b"/>
<circle cx="930.16" cy="692.71" r="2.2" fill="#56a64b"/>
<g clip-path="url(#c7)">
<path d="M24.03,732.5 L48.52,679.17 L73.01,614.35 L97.5,614.35 L121.99,614.35 L146.48,614.35 L170.97,614.35 L195.46,614.35 L219.95,614.35 L244.44,614.35 L268.93,614.35 L293.42,614.35 L317.91,614.35 L342.4,614.35 L366.89,614.35 L391.38,614.35 L415.87,614.35 L440.36,614.35 L464.85,614.35 L489.34,614.35 L513.83,614.35 L538.32,614.35 L562.81,614.35 L587.3,614.35 L611.79,614.35 L636.28,614.35 L660.77,614.35 L685.26,614.35 L709.75,614.35 L734.24,614.35 L758.73,614.35 L783.22,614.35 L807.71,614.35 L832.2,614.35 L856.69,614.35 L881.18,614.35 L905.67,614.35 L930.16,614.35" stroke="#e5b42a" stroke-width="1.1" fill="none" stroke-linejoin="round" />
</g>
<circle cx="48.52" cy="679.17" r="2.2" fill="#e5b42a"/>
<circle cx="73.01" cy="614.35" r="2.2" fill="#e5b42a"/>
<circle cx="97.5" cy="614.35" r="2.2" fill="#e5b42a"/>
<circle cx="121.99" cy="614.35" r="2.2" fill="#e5b42a"/>
<circle cx="146.48" cy="614.35" r="2.2" fill="#e5b42a"/>
<circle cx="170.97" cy="614.35" r="2.2" fill="#e5b42a"/>
<circle cx="195.46" cy="614.35" r="2.2" fill="#e5b42a"/>
<circle cx="219.95" cy="614.35" r="2.2" fill="#e5b42a"/>
<circle cx="244.44" cy="614.35" r="2.2" fill="#e5b42a"/>
<circle cx="268.93" cy="614.35" r="2.2" fill="#e5b42a"/>
<circle cx="293.42" cy="614.35" r="2.2" fill="#e5b42a"/>
<circle cx="317.91" cy="614.35" r="2.2" fill="#e5b42a"/>
<circle cx="342.4" cy="614.35" r="2.2" fill="#e5b42a"/>
<circle cx="366.89" cy="614.35" r="2.2" fill="#e5b42a"/>
<circle cx="391.38" cy="614.35" r="2.2" fill="#e5b42a"/>
<circle cx="415.87" cy="614.35" r="2.2" fill="#e5b42a"/>
<circle cx="440.36" cy="614.35" r="2.2" fill="#e5b42a"/>
<circle cx="464.85" cy="614.35" r="2.2" fill="#e5b42a"/>
<circle cx="489.34" cy="614.35" r="2.2" fill="#e5b42a"/>
<circle cx="513.83" cy="614.35" r="2.2" fill="#e5b42a"/>
<circle cx="538.32" cy="614.35" r="2.2" fill="#e5b42a"/>
<circle cx="562.81" cy="614.35" r="2.2" fill="#e5b42a"/>
<circle cx="587.3" cy="614.35" r="2.2" fill="#e5b42a"/>
<circle cx="611.79" cy="614.35" r="2.2" fill="#e5b42a"/>
<circle cx="636.28" cy="614.35" r="2.2" fill="#e5b42a"/>
<circle cx="660.77" cy="614.35" r="2.2" fill="#e5b42a"/>
<circle cx="685.26" cy="614.35" r="2.2" fill="#e5b42a"/>
<circle cx="709.75" cy="614.35" r="2.2" fill="#e5b42a"/>
<circle cx="734.24" cy="614.35" r="2.2" fill="#e5b42a"/>
<circle cx="758.73" cy="614.35" r="2.2" fill="#e5b42a"/>
<circle cx="783.22" cy="614.35" r="2.2" fill="#e5b42a"/>
<circle cx="807.71" cy="614.35" r="2.2" fill="#e5b42a"/>
<circle cx="832.2" cy="614.35" r="2.2" fill="#e5b42a"/>
<circle cx="856.69" cy="614.35" r="2.2" fill="#e5b42a"/>
<circle cx="881.18" cy="614.35" r="2.2" fill="#e5b42a"/>
<circle cx="905.67" cy="614.35" r="2.2" fill="#e5b42a"/>
<circle cx="930.16" cy="614.35" r="2.2" fill="#e5b42a"/>
<path d="M16,772.5H941.7" stroke="#e6e7e8" stroke-width="1"/>
<text x="42.5" y="764.3" class="lh">Name</text>
<text x="748.4" y="764.3" text-anchor="end" class="lh">Min</text>
<text x="804.8" y="764.3" text-anchor="end" class="lh">Max</text>
<text x="868.6" y="764.3" text-anchor="end" class="lh">Mean</text>
<text x="933.7" y="764.3" text-anchor="end" class="lh">Last *</text>
<rect x="23" y="781.1" width="12.3" height="3.8" rx="1.9" fill="#56a64b"/>
<path d="M0,785.6 Q3.5,786.6 7.6,790 L0,790 Z" fill="#1b4a8f"/>
<path d="M1899,790 Q1902.5,786.5 1906,785.5 L1906,790 Z" fill="#9c9c9c"/>
<text x="42.5" y="786.5" class="lg">Optmistic Usage</text>
<text x="748.2" y="786.5" text-anchor="end" class="lg">0</text>
<text x="805" y="786.5" text-anchor="end" class="lg">144</text>
<text x="868.8" y="786.5" text-anchor="end" class="lg">28.3</text>
<text x="933.7" y="786.5" text-anchor="end" class="lg">48</text>
<circle cx="1887.6" cy="569.2" r="1.15" fill="#24292e"/><circle cx="1887.6" cy="573.4" r="1.15" fill="#24292e"/><circle cx="1887.6" cy="577.6" r="1.15" fill="#24292e"/>
</svg>
</body></html>
